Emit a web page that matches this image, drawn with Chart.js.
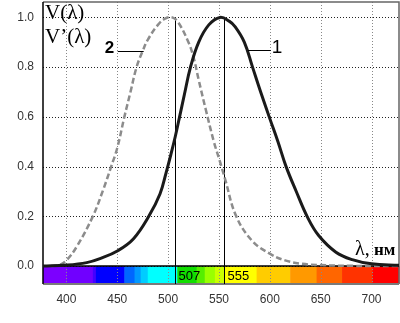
<!DOCTYPE html>
<html>
<head>
<meta charset="utf-8">
<script src="https://cdn.jsdelivr.net/npm/chart.js@4"></script>
<style>
  html, body { margin: 0; padding: 0; background: #fff; }
  #wrap { width: 400px; height: 323px; }
</style>
</head>
<body>
<div id="wrap"><canvas id="vlambda" width="400" height="323"></canvas></div>
<script>
// curve 1: photopic V(λ)
const photopicNm = [377, 400, 420, 433, 451, 466, 481, 492, 498, 503, 507, 511, 516, 522, 530, 540, 551, 560, 566, 575, 583, 591, 600, 608, 616, 626, 637, 648, 665, 681, 700, 727];
const photopicV  = [0, 0.004, 0.014, 0.03, 0.063, 0.11, 0.2, 0.29, 0.375, 0.453, 0.52, 0.595, 0.69, 0.8, 0.9, 0.97, 1.0, 0.985, 0.962, 0.9, 0.8, 0.7, 0.593, 0.5, 0.4, 0.3, 0.197, 0.123, 0.056, 0.026, 0.009, 0.003];

// curve 2: scotopic V'(λ)
const scotopicNm = [385, 393, 400, 410, 426, 436, 444, 450, 457, 463, 469, 475, 480, 490, 497, 504, 510, 520, 525, 530, 537, 545, 551, 556, 567, 583, 600, 615, 632, 650, 680, 727];
const scotopicV  = [0, 0.005, 0.023, 0.077, 0.2, 0.305, 0.4, 0.475, 0.6, 0.7, 0.8, 0.865, 0.91, 0.97, 0.995, 1.0, 0.98, 0.9, 0.84, 0.75, 0.63, 0.5, 0.42, 0.35, 0.2, 0.1, 0.05, 0.023, 0.009, 0.004, 0.001, 0];

const xTicks = [400, 450, 500, 550, 600, 650, 700];
const yTicks = [0, 0.2, 0.4, 0.6, 0.8, 1.0];
const peakMarks = [507, 555];

// spectrum strip under the axis
const bandEdges  = [377, 400, 426, 429, 457, 467, 473, 480, 509, 528, 536, 546, 555, 587, 620, 646, 671, 701, 727];
const bandColors = ['#7c00ff', '#7000ff', '#4400ff', '#0000ff', '#0066ff', '#0099ff', '#00ccff', '#00ffff',
                    '#11dd00', '#55ee00', '#99ff00', '#ccff00', '#ffff00', '#ffcc00', '#ff9900', '#ff6600', '#ff3300', '#ff0000'];

const X_MIN = 377, X_MAX = 727, Y_MIN = -0.072, Y_MAX = 1.062;

const toPoints = (xs, ys) => xs.map((x, i) => ({ x, y: ys[i] }));

const spectrumPlugin = {
    id: 'spectrum',
    beforeDatasetsDraw(chart) {
        const { ctx, chartArea, scales: { x, y } } = chart;
        const top = y.getPixelForValue(0), bottom = y.getPixelForValue(Y_MIN);
        ctx.save();
        // colour strip
        for (let i = 0; i < bandColors.length; i++) {
            const x0 = x.getPixelForValue(bandEdges[i]);
            const x1 = x.getPixelForValue(bandEdges[i + 1]);
            ctx.fillStyle = bandColors[i];
            ctx.fillRect(x0, top, x1 - x0 + 0.5, bottom - top);
        }
        // dotted grid
        ctx.lineWidth = 1;
        ctx.setLineDash([1, 2]);
        ctx.strokeStyle = '#888';
        xTicks.forEach(v => {
            const px = Math.round(x.getPixelForValue(v)) + 0.5;
            ctx.beginPath();
            ctx.moveTo(px, chartArea.top);
            ctx.lineTo(px, chartArea.bottom);
            ctx.stroke();
        });
        ctx.strokeStyle = '#222';
        yTicks.forEach(v => {
            const py = Math.round(y.getPixelForValue(v)) + 0.5;
            ctx.beginPath();
            ctx.moveTo(chartArea.left, py);
            ctx.lineTo(chartArea.right, py);
            ctx.stroke();
        });
        ctx.setLineDash([]);
        // frame
        ctx.strokeStyle = '#666';
        ctx.lineWidth = 1.5;
        ctx.beginPath();
        ctx.moveTo(chartArea.left, chartArea.top);
        ctx.lineTo(chartArea.right, chartArea.top);
        ctx.lineTo(chartArea.right, chartArea.bottom);
        ctx.stroke();
        ctx.strokeStyle = '#7a7a7a';
        ctx.lineWidth = 2;
        ctx.beginPath();
        ctx.moveTo(chartArea.left, chartArea.bottom);
        ctx.lineTo(chartArea.right, chartArea.bottom);
        ctx.stroke();
        ctx.strokeStyle = '#000';
        ctx.lineWidth = 1.5;
        ctx.beginPath();
        ctx.moveTo(chartArea.left, chartArea.top);
        ctx.lineTo(chartArea.left, chartArea.bottom);
        ctx.moveTo(chartArea.left, top);
        ctx.lineTo(chartArea.right, top);
        ctx.stroke();
        // peak markers
        ctx.lineWidth = 1;
        peakMarks.forEach(v => {
            const px = Math.round(x.getPixelForValue(v)) + 0.5;
            ctx.beginPath();
            ctx.moveTo(px, y.getPixelForValue(1.0));
            ctx.lineTo(px, bottom);
            ctx.stroke();
            ctx.fillStyle = '#000';
            ctx.font = '13px "Liberation Sans", Arial, sans-serif';
            ctx.textBaseline = 'middle';
            ctx.textAlign = 'left';
            ctx.fillText(String(v), px + 3, (top + bottom) / 2 + 1);
        });
        ctx.restore();
    },
    afterDraw(chart) {
        const { ctx, chartArea, scales: { x, y } } = chart;
        ctx.save();
        ctx.fillStyle = '#000';
        ctx.textBaseline = 'alphabetic';
        ctx.font = '21px "Liberation Serif", "Times New Roman", serif';
        ctx.fillText('V(λ)', chartArea.left + 2, 19);
        ctx.fillText('V\u02BC(λ)', chartArea.left + 2, 43);

        // curve labels with leader lines
        ctx.strokeStyle = '#000';
        ctx.lineWidth = 1;
        ctx.beginPath();
        ctx.moveTo(x.getPixelForValue(450.5), Math.round(y.getPixelForValue(0.863)) + 0.5);
        ctx.lineTo(x.getPixelForValue(476), Math.round(y.getPixelForValue(0.863)) + 0.5);
        ctx.moveTo(x.getPixelForValue(578.5), Math.round(y.getPixelForValue(0.87)) + 0.5);
        ctx.lineTo(x.getPixelForValue(601), Math.round(y.getPixelForValue(0.87)) + 0.5);
        ctx.stroke();
        ctx.font = 'bold 17px "Liberation Sans", Arial, sans-serif';
        ctx.fillText('2', x.getPixelForValue(450.5) - 13, y.getPixelForValue(0.863) + 2);
        ctx.font = '19px "Liberation Sans", Arial, sans-serif';
        ctx.fillText('1', x.getPixelForValue(601) + 1, y.getPixelForValue(0.87) + 3);

        // axis unit
        ctx.font = '20px "Liberation Serif", "Times New Roman", serif';
        ctx.fillText('λ,', 355, 255);
        ctx.font = 'bold 17px "Liberation Serif", "Times New Roman", serif';
        ctx.fillText('нм', 374, 255);
        ctx.restore();
    }
};

const ctx = document.getElementById('vlambda').getContext('2d');
const vChart = new Chart(ctx, {
    type: 'line',
    data: {
        datasets: [{
            label: 'V(λ)',
            data: toPoints(photopicNm, photopicV),
            borderColor: '#1a1a1a',
            borderWidth: 3,
            pointRadius: 0,
            tension: 0.4,
            fill: false
        }, {
            label: "V'(λ)",
            data: toPoints(scotopicNm, scotopicV),
            borderColor: '#8c8c8c',
            borderWidth: 2.5,
            borderDash: [6, 3],
            pointRadius: 0,
            tension: 0.4,
            fill: false
        }]
    },
    options: {
        responsive: false,
        animation: false,
        events: [],
        layout: { padding: { top: 2, right: 1, left: 0, bottom: 0 } },
        plugins: { legend: { display: false }, tooltip: { enabled: false } },
        scales: {
            x: {
                type: 'linear',
                min: X_MIN,
                max: X_MAX,
                afterBuildTicks: axis => { axis.ticks = xTicks.map(v => ({ value: v })); },
                afterFit: axis => { axis.height = 39; axis.paddingLeft = 0; axis.paddingRight = 0; },
                grid: { display: false, drawTicks: false },
                border: { display: false },
                ticks: {
                    padding: 8,
                    color: '#333',
                    font: { family: '"Liberation Sans", Arial, sans-serif', size: 12 }
                }
            },
            y: {
                type: 'linear',
                min: Y_MIN,
                max: Y_MAX,
                afterBuildTicks: axis => { axis.ticks = yTicks.map(v => ({ value: v })); },
                afterFit: axis => { axis.width = 43; axis.paddingTop = 0; axis.paddingBottom = 0; },
                grid: { display: false, drawTicks: false },
                border: { display: false },
                ticks: {
                    padding: 9,
                    color: '#333',
                    font: { family: '"Liberation Sans", Arial, sans-serif', size: 12 },
                    callback: v => v.toFixed(1)
                }
            }
        }
    },
    plugins: [spectrumPlugin]
});
</script>
</body>
</html>
